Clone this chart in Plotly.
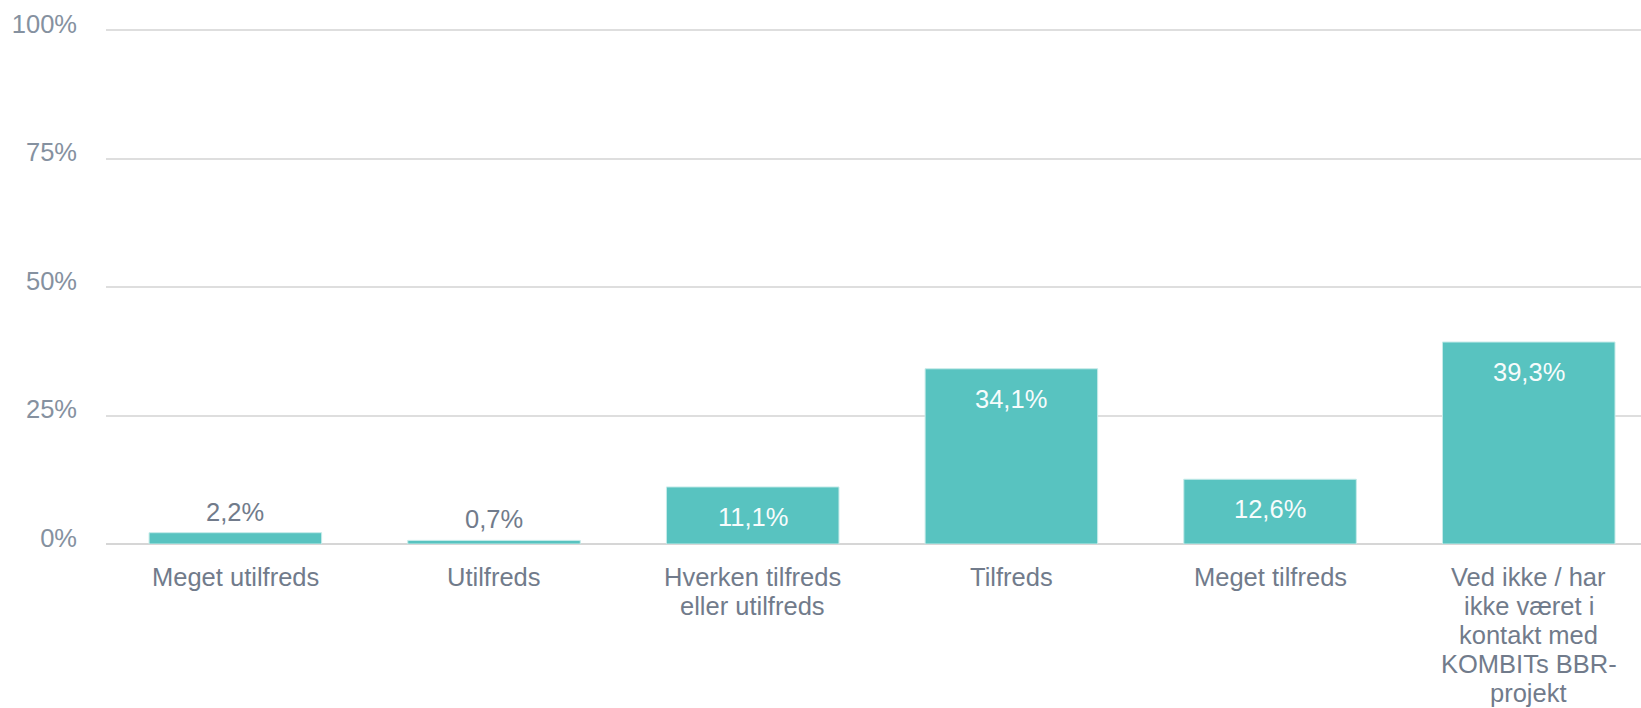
import plotly.graph_objects as go

categories = [
    "Meget utilfreds",
    "Utilfreds",
    "Hverken tilfreds\neller utilfreds",
    "Tilfreds",
    "Meget tilfreds",
    "Ved ikke / har\nikke været i\nkontakt med\nKOMBITs BBR-\nprojekt",
]
values = [2.2, 0.7, 11.1, 34.1, 12.6, 39.3]
value_labels = ["2,2%", "0,7%", "11,1%", "34,1%", "12,6%", "39,3%"]
y_ticks = [0, 25, 50, 75, 100]
y_tick_labels = ["0%", "25%", "50%", "75%", "100%"]

FONT = "Liberation Sans, Arial, sans-serif"
FS = 25.5
BAR_COLOR = "#58C3C0"
TICK_COLOR = "#8591a0"
CAT_COLOR = "#717b8b"

x_keys = list(range(len(categories)))

fig = go.Figure()
fig.add_trace(go.Bar(
    x=x_keys,
    y=values,
    width=0.667,
    marker=dict(color=BAR_COLOR, line=dict(color="#c6ebe9", width=1)),
    hoverinfo="skip",
))

annotations = []
for xi, v, lab in zip(x_keys, values, value_labels):
    inside = v >= 5
    annotations.append(dict(
        x=xi, y=v, xref="x", yref="y", text=lab, showarrow=False,
        yanchor="middle", xanchor="center",
        yshift=-30 if inside else 21,
        font=dict(family=FONT, size=FS, color="#f7fcfc" if inside else CAT_COLOR),
    ))

line_gap = 29.0
for xi, cat in zip(x_keys, categories):
    for i, line in enumerate(cat.split("\n")):
        annotations.append(dict(
            x=xi, y=0, xref="x", yref="y", text=line, showarrow=False,
            yanchor="middle", xanchor="center",
            yshift=-33 - i * line_gap,
            font=dict(family=FONT, size=FS, color=CAT_COLOR),
        ))

fig.update_layout(
    width=1641, height=708,
    margin=dict(l=106, r=0, t=28, b=164),
    paper_bgcolor="white", plot_bgcolor="white",
    showlegend=False,
    annotations=annotations,
    font=dict(family=FONT, size=FS, color=TICK_COLOR),
    xaxis=dict(
        range=[-0.5, 5.434],
        showticklabels=False, showgrid=False, zeroline=False,
        showline=False, ticks="", fixedrange=True,
    ),
    yaxis=dict(
        range=[0, 100.4],
        tickvals=y_ticks, ticktext=y_tick_labels,
        showgrid=True, gridcolor="#dedede", gridwidth=2,
        zeroline=True, zerolinecolor="#d6d6d6", zerolinewidth=2,
        showline=False, ticks="",
        ticklabelstandoff=28, ticklabelshift=-6,
        tickfont=dict(family=FONT, size=FS, color=TICK_COLOR),
        fixedrange=True,
    ),
)

fig.write_html(
    "out.html",
    config={"displayModeBar": False},
    post_script="document.body.style.margin='0';document.body.style.overflow='hidden';",
)
